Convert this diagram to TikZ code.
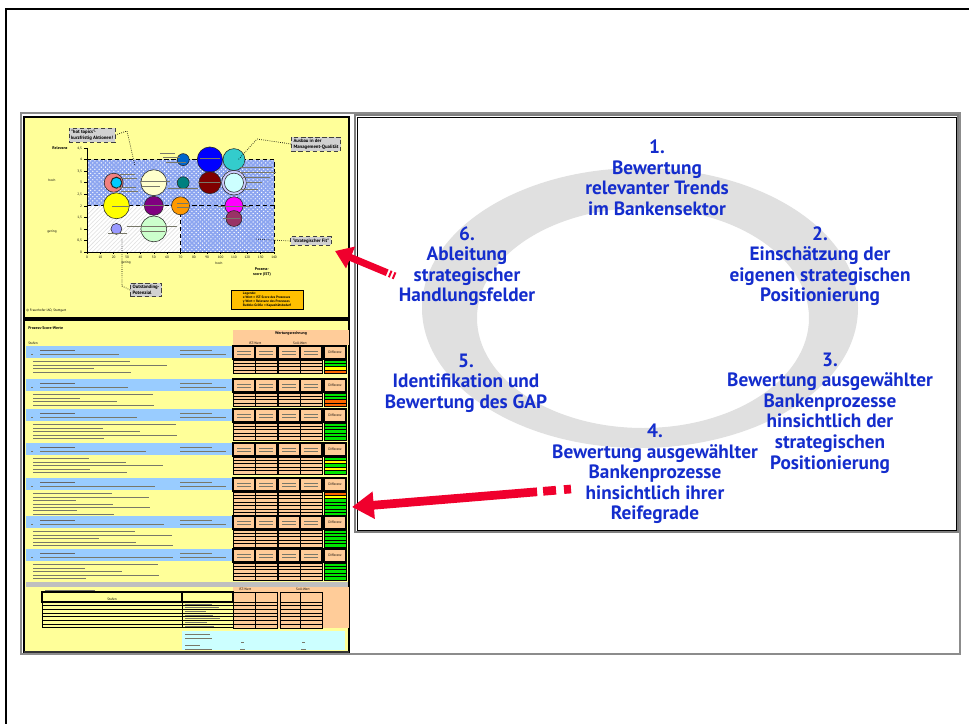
\documentclass[tikz,border=0pt]{standalone}
\usepackage{fontspec}
\setmainfont{PT Sans}
\usetikzlibrary{arrows.meta,positioning,patterns}
\definecolor{stageblue}{RGB}{20,45,205}
\definecolor{arrowred}{RGB}{240,0,45}
\definecolor{ringgray}{RGB}{224,224,224}
\definecolor{paleyellow}{RGB}{255,255,153}
\definecolor{salmon}{RGB}{255,204,153}
\definecolor{bandblue}{RGB}{153,204,255}
\definecolor{fitblue}{RGB}{140,165,240}
\definecolor{legendorange}{RGB}{255,192,0}
\definecolor{palecyan}{RGB}{204,255,255}
\definecolor{okgreen}{RGB}{0,230,0}
\definecolor{warnyellow}{RGB}{255,255,0}
\definecolor{badorange}{RGB}{255,102,0}
\definecolor{inkgray}{RGB}{120,120,105}
\definecolor{bubred}{RGB}{240,128,128}
\definecolor{bubcyan}{RGB}{0,204,255}
\definecolor{bubyellow}{RGB}{255,255,0}
\definecolor{bublav}{RGB}{153,153,255}
\definecolor{bubcream}{RGB}{255,255,204}
\definecolor{bubpurple}{RGB}{128,0,128}
\definecolor{bubmint}{RGB}{204,255,204}
\definecolor{bubsteel}{RGB}{0,102,204}
\definecolor{bubteal}{RGB}{0,128,128}
\definecolor{buborange}{RGB}{255,153,0}
\definecolor{bubblue}{RGB}{0,0,255}
\definecolor{bubmaroon}{RGB}{128,0,0}
\definecolor{bubturq}{RGB}{51,204,204}
\definecolor{bubice}{RGB}{204,255,255}
\definecolor{bubmagenta}{RGB}{255,0,255}
\definecolor{bubrose}{RGB}{153,51,102}
\definecolor{bubring}{RGB}{204,204,255}

\begin{document}
\begin{tikzpicture}[x=0.025cm,y=-0.025cm,every node/.style={inner sep=0pt}]
\tikzstyle{stage}=[text=stageblue,font=\fontsize{13.7}{14.6}\selectfont\bfseries,align=center]
\tikzstyle{callout}=[draw=black!75,densely dashed,fill=black!18,font=\fontsize{3.4}{4}\selectfont\bfseries,align=left,inner sep=1.5pt]
\tikzstyle{bubble}=[circle,draw=black!85,line width=0.4pt]
\tikzstyle{ticklab}=[font=\fontsize{2.4}{2.8}\selectfont]
\tikzstyle{axislab}=[font=\fontsize{2.8}{3.2}\selectfont\bfseries,align=center]
\tikzstyle{smudge}=[draw=inkgray,line width=0.45pt]
\tikzstyle{cell}=[draw=black,line width=0.5pt,fill=salmon]
\tikzstyle{redarrow}=[draw=arrowred]
\useasboundingbox (0,0) rectangle (969,724);
\fill[white] (0,0) rectangle (969,724);

\draw[line width=1.5pt] (985,9) -- (6,9) -- (6,740);
\draw[black!45,line width=1.2pt] (21,113) rectangle (960,654);

\draw[fill=paleyellow,line width=0.9pt] (24,117) rectangle (349,318);
\begin{scope}[shift={(87,252)},xscale=1.336,yscale=-23.1]
\fill[fitblue] (0,2) rectangle (140,4) (70,0) rectangle (140,2);
\fill[pattern=crosshatch dots,pattern color=white] (0,2) rectangle (140,4) (70,0) rectangle (140,2);
\fill[white] (0,0) rectangle (70,2);
\fill[pattern=north east lines,pattern color=black!12] (0,0) rectangle (70,2);
\draw[densely dashed,line width=0.5pt] (0,4) -- (140,4) -- (140,0) (0,2) -- (140,2) (70,2) -- (70,0);
\draw[line width=0.5pt] (0,4.5) -- (0,0) -- (140,0);
\foreach \v/\l in {0/0,0.5/{0,5},1/1,1.5/{1,5},2/2,2.5/{2,5},3/3,3.5/{3,5},4/4,4.5/{4,5}}
  \draw[line width=0.4pt] (0,\v) -- ++(-2,0) node[ticklab,left=1.5pt] {\l};
\foreach \v in {0,10,...,140}
  \draw[line width=0.4pt] (\v,0) -- ++(0,-0.08) node[ticklab,below=1.5pt] {\v};
\foreach \bx/\by/\bd/\bc in {20/3/13.5pt/bubred,22/2/18.4pt/bubyellow,22/1/7.8pt/bublav,
    50/3/18.4pt/bubcream,50/2/13.5pt/bubpurple,50/1/18.4pt/bubmint,72/4/8.5pt/bubsteel,
    72/3/8.5pt/bubteal,70/2/12.8pt/buborange,92/4/18pt/bubblue,92/3/15.6pt/bubmaroon,
    110/4/15.6pt/bubturq,110/2/12.8pt/bubmagenta,110/1.45/11.3pt/bubrose}
  \node[bubble,fill=\bc,minimum size=\bd] at (\bx,\by) {};
\node[bubble,fill=bubcyan,minimum size=7.8pt,line width=0.7pt] at (22,3) {};
\node[bubble,fill=bubring,minimum size=17.6pt] at (110,3) {};
\node[bubble,fill=bubice,minimum size=13.6pt] at (110,3) {};
\end{scope}

\foreach \xa/\xb/\yy in {120/135/174,121/137/178,118/136/187,121/138/191,140/170/181,142/160/186,
    160/175/153,163/180/157,166/186/162,240/272/167,240/276/172,243/270/177,247/262/182,
    240/258/189,168/198/188,112/130/206,142/165/205,177/188/203,177/189/207,127/177/226,
    140/165/231,108/127/233,218/250/206,223/240/218,200/220/158,198/220/182}
  \draw[smudge,line width=0.4pt] (\xa,\yy) -- (\xb,\yy);

\node[callout] (hot) at (92,135) {"hot topics"-\\kurzfristig Aktionen!};
\node[callout] (ausbau) at (316,144) {Ausbau in der\\Management-Qualität};
\node[callout] (fit) at (311,241) {"strategischer Fit"};
\node[callout] (outst) at (146,290) {Outstanding-\\Potenzial};
\draw[densely dotted,line width=0.5pt] (hot.east) -- (127,131) -- (135,166);
\draw[densely dotted,line width=0.5pt] (ausbau.west) -- (257,139) -- (238,160);
\draw[densely dotted,line width=0.5pt] (fit.west) -- (255,239);
\draw[densely dotted,line width=0.5pt] (outst.west) -- (122,286) -- (122,238);

\node[axislab] (relevanz) at (60,148) {Relevanz};
\node[ticklab] at (52,180) {hoch};
\node[ticklab] at (52,232) {gering};
\node[ticklab] at (126,263) {gering};
\node[ticklab] at (219,263) {hoch};
\node[axislab] (score) at (262,272) {Prozess-\\score (IST)};
\node[draw,fill=legendorange,line width=0.6pt,minimum width=1.8cm,minimum height=0.47cm,
  inner sep=1.2pt,align=left,font=\fontsize{2.4}{2.9}\selectfont\bfseries] (legend) at (267,300)
  {Legende:\\x-Wert = IST-Score des Prozesses\\y-Wert = Relevanz des Prozesses\\Bubble-Größe = Kapazitätsbedarf};
\node[ticklab,anchor=west] (copy) at (26,311) {© Fraunhofer IAO, Stuttgart};

\draw[fill=paleyellow,line width=0.9pt] (24,320) rectangle (349,652);
\node[axislab,anchor=west] (ttitle) at (28,328) {Prozess-Score-Werte};
\fill[salmon] (233,330) rectangle (349,345);
\node[axislab] at (291,334) {Wertungsrechnung};
\node[ticklab] at (255,343) {IST-Wert};
\node[ticklab] at (300,343) {Soll-Wert};
\node[ticklab,anchor=west] at (28,343) {Stufen};
\foreach \yb/\cols [count=\k] in {346/{okgreen,okgreen,warnyellow,badorange},
    379/{okgreen,okgreen,badorange,badorange},409/{okgreen,okgreen,okgreen,okgreen,okgreen},
    443/{okgreen,warnyellow,okgreen,warnyellow,okgreen},
    478/{badorange,warnyellow,okgreen,okgreen,okgreen,okgreen,okgreen},
    516/{okgreen,okgreen,okgreen,okgreen,okgreen},549/{okgreen,okgreen,okgreen,okgreen,okgreen}}{
  \fill[bandblue] (26,\yb) rectangle (233,\yb+12);
  \draw[smudge,draw=black!60,line width=0.6pt] (40,\yb+4) -- (75,\yb+4);
  \draw[smudge] (40,\yb+8.5) -- ({110+9*\k},\yb+8.5)
    (180,\yb+4) -- (212,\yb+4) (180,\yb+8.5) -- (226,\yb+8.5) (31,\yb+8.5) -- (33,\yb+8.5);
  \foreach \xa/\xb in {233/255,255/277,278/300,300/322}{
    \draw[cell,line width=0.8pt] (\xa,\yb) rectangle (\xb,\yb+13);
    \draw[smudge,line width=0.3pt] (\xa+4,\yb+5) -- (\xb-4,\yb+5) (\xa+4,\yb+8.5) -- (\xb-4,\yb+8.5);
  }
  \draw[cell,line width=0.8pt] (324,\yb) rectangle (346,\yb+13);
  \node[ticklab] at (335,\yb+6.5) {Differenz};
  \foreach \c [count=\r] in \cols {
    \foreach \xa/\xb in {233/255,255/277,278/300,300/322}
      \draw[cell] (\xa,{\yb+14+(\r-1)*3.4}) rectangle (\xb,{\yb+14+\r*3.4});
    \draw[black,line width=0.5pt,fill=\c] (324,{\yb+14+(\r-1)*3.4}) rectangle (346,{\yb+14+\r*3.4});
    \draw[smudge,line width=0.3pt] (33,{\yb+15.7+(\r-1)*3.4}) -- ({70+mod(37*\r+23*\k,110)},{\yb+15.7+(\r-1)*3.4});
  }
}

\fill[black!25] (26,582) rectangle (348,587);
\fill[salmon] (233,587) rectangle (349,628);
\draw[smudge] (45,590) -- (95,590);
\node[ticklab] at (245,589) {IST-Wert};
\node[ticklab] at (303,589) {Soll-Wert};
\draw[line width=0.8pt] (42,592) rectangle (182,602) (182,592) rectangle (233,602);
\foreach \xa/\xb in {233/255,255/277,280/300,300/322}
  \draw[cell,line width=0.7pt] (\xa,592) rectangle (\xb,602);
\node[ticklab] at (112,599) {Stufen};
\foreach \r in {1,...,7}{
  \draw[line width=0.6pt] (42,{602+(\r-1)*3.7}) rectangle (182,{602+\r*3.7})
    (182,{602+(\r-1)*3.7}) rectangle (233,{602+\r*3.7});
  \foreach \xa/\xb in {233/255,255/277,280/300,300/322}
    \draw[cell] (\xa,{602+(\r-1)*3.7}) rectangle (\xb,{602+\r*3.7});
  \draw[smudge,line width=0.35pt] (185,{603.9+(\r-1)*3.7}) -- ({205+mod(7*\r,20)},{603.9+(\r-1)*3.7});
}
\fill[palecyan] (182,631) rectangle (345,650);
\draw[smudge,line width=0.4pt] (185,634) -- (210,634) (185,638) -- (212,638) (185,645) -- (200,645)
  (185,649) -- (212,649) (241,642) -- (244,642) (302,642) -- (305,642) (240,649) -- (245,649) (301,649) -- (306,649);
\draw[black!80,line width=1.3pt] (24,652) -- (349,652);

\draw[black!50,line width=1pt] (355,115) rectangle (958,532);
\draw[fill=white,line width=0.6pt] (357,117) rectangle (956,530);
\fill[ringgray,even odd rule] (640,308) ellipse [x radius=218,y radius=140]
  (643,318) ellipse [x radius=166,y radius=110];

\node[stage] (s1) at (657,178) {1.\\Bewertung\\relevanter Trends\\im Bankensektor};
\node[stage] (s2) at (820,266) {2.\\Einschätzung der\\eigenen strategischen\\Positionierung};
\node[stage] (s3) at (830,413) {3.\\Bewertung ausgewählter\\Bankenprozesse\\hinsichtlich der\\strategischen\\Positionierung};
\node[stage] (s4) at (655,474) {4.\\Bewertung ausgewählter\\Bankenprozesse\\hinsichtlich ihrer\\Reifegrade};
\node[stage] (s5) at (466,383) {5.\\Identifikation und\\Bewertung des GAP};
\node[stage] (s6) at (467,266) {6.\\Ableitung\\strategischer\\Handlungsfelder};

\coordinate (fittail) at (395,276);
\coordinate (fittip) at (335,251);
\coordinate (gaptail) at (571,489);
\coordinate (gaptip) at (352,507);
\draw[redarrow,line width=5pt,dash pattern=on 1.4pt off 1.6pt on 1.4pt off 1.6pt on 80pt,
  -{Triangle[length=12pt,width=16pt]}] (fittail) -- (fittip);
\draw[redarrow,line width=6.2pt,dash pattern=on 5pt off 5.7pt on 9.2pt off 4.3pt on 300pt,
  -{Triangle[length=15.5pt,width=18.5pt]}] (gaptail) -- (gaptip);
\end{tikzpicture}
\end{document}
